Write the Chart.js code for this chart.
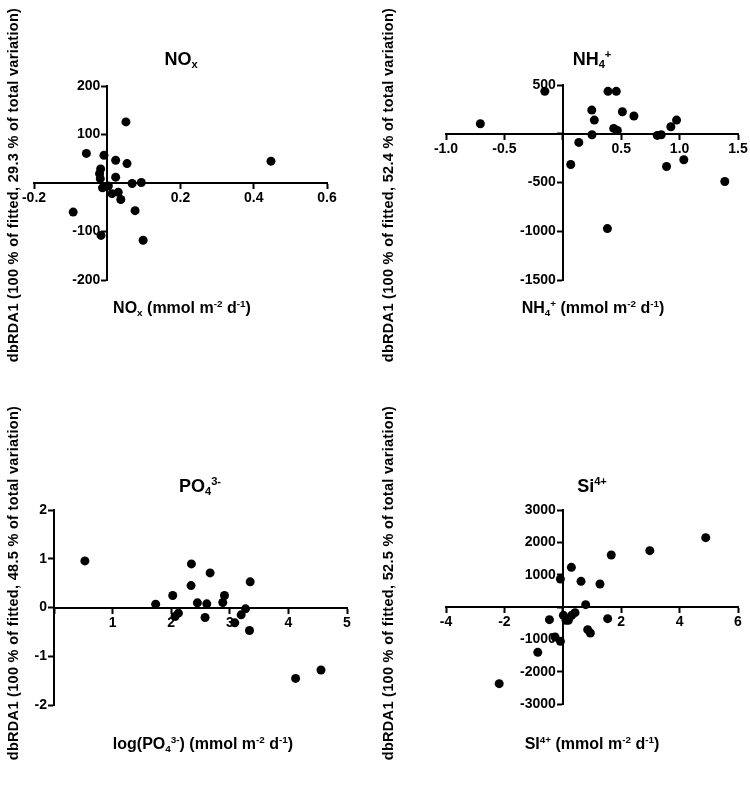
<!DOCTYPE html>
<html>
<head>
<meta charset="utf-8">
<script src="https://cdn.jsdelivr.net/npm/chart.js@4.4.0/dist/chart.umd.min.js"></script>
<style>
  body { margin: 0; background: #fff; }
  #wrap { position: relative; width: 750px; height: 791px; overflow: hidden;
          font-family: "Liberation Sans", Arial, sans-serif; font-weight: bold; color: #000; }
  canvas { position: absolute; }
  .txt { position: absolute; white-space: nowrap; line-height: 1; }
  .title { font-size: 18px; transform: translateX(-50%); }
  .xt { font-size: 16px; transform: translateX(-50%); }
  .yt { font-size: 14.5px; letter-spacing: 0.3px; transform: translate(-50%, -50%) rotate(-90deg); }
  sub, sup { font-size: 0.62em; line-height: 0; }
  sub { vertical-align: -0.3em; }
  sup { vertical-align: 0.6em; }
</style>
</head>
<body>
<div id="wrap">
  <canvas id="c1"></canvas>
  <canvas id="c2"></canvas>
  <canvas id="c3"></canvas>
  <canvas id="c4"></canvas>

  <div class="txt title" style="left:181px; top:50px;">NO<sub>x</sub></div>
  <div class="txt title" style="left:592px; top:50px;">NH<sub>4</sub><sup>+</sup></div>
  <div class="txt title" style="left:200px; top:477px;">PO<sub>4</sub><sup>3-</sup></div>
  <div class="txt title" style="left:592px; top:477px;">Si<sup>4+</sup></div>

  <div class="txt xt" style="left:182px; top:300px;">NO<sub>x</sub> (mmol m<sup>-2</sup> d<sup>-1</sup>)</div>
  <div class="txt xt" style="left:593px; top:300px;">NH<sub>4</sub><sup>+</sup> (mmol m<sup>-2</sup> d<sup>-1</sup>)</div>
  <div class="txt xt" style="left:203px; top:736px;">log(PO<sub>4</sub><sup>3-</sup>) (mmol m<sup>-2</sup> d<sup>-1</sup>)</div>
  <div class="txt xt" style="left:592px; top:736px;">SI<sup>4+</sup> (mmol m<sup>-2</sup> d<sup>-1</sup>)</div>

  <div class="txt yt" style="left:13px; top:185px;">dbRDA1 (100 % of fitted, 29.3 % of total variation)</div>
  <div class="txt yt" style="left:388px; top:185px;">dbRDA1 (100 % of fitted, 52.4 % of total variation)</div>
  <div class="txt yt" style="left:13px; top:583px;">dbRDA1 (100 % of fitted, 48.5 % of total variation)</div>
  <div class="txt yt" style="left:388px; top:583px;">dbRDA1 (100 % of fitted, 52.5 % of total variation)</div>
</div>

<script>
// NOx panel
const noxX = [0.051, -0.057, -0.009, 0.023, 0.054, -0.018, -0.021, -0.019, 0.023, 0.068, 0.093,
              -0.013, 0.003, 0.013, 0.030, 0.037, -0.093, 0.076, -0.017, 0.098, 0.447];
const noxY = [126, 61, 57, 47, 40, 29, 19, 9, 12, -1, 1, -10, -6, -22, -19, -34, -60, -57, -108, -118, 45];
const noxXTicks = [-0.2, 0, 0.2, 0.4, 0.6];
const noxXLabels = ["-0.2", "", "0.2", "0.4", "0.6"];
const noxYTicks = [-200, -100, 0, 100, 200];
const noxYLabels = ["-200", "-100", "", "100", "200"];

// NH4+ panel
const nh4X = [-0.706, -0.154, 0.387, 0.458, 0.248, 0.51, 0.609, 0.27, 0.974, 0.925, 0.436,
              0.467, 0.25, 0.809, 0.843, 0.137, 0.068, 0.888, 1.036, 1.387, 0.382];
const nh4Y = [103, 435, 435, 435, 243, 226, 182, 140, 140, 72, 55, 34, -10, -17, -10, -89, -315,
              -336, -267, -490, -973];
const nh4XTicks = [-1.0, -0.5, 0, 0.5, 1.0, 1.5];
const nh4XLabels = ["-1.0", "-0.5", "", "0.5", "1.0", "1.5"];
const nh4YTicks = [-1500, -1000, -500, 0, 500];
const nh4YLabels = ["-1500", "-1000", "-500", "", "500"];

// PO4 3- panel
const po4X = [0.527, 2.345, 2.664, 2.339, 3.348, 2.026, 2.909, 1.735, 2.447, 2.607, 2.88,
              3.268, 2.123, 2.066, 2.578, 3.085, 3.194, 3.336, 4.123, 4.556];
const po4Y = [0.956, 0.894, 0.71, 0.45, 0.526, 0.246, 0.246, 0.068, 0.096, 0.075, 0.102,
              -0.027, -0.116, -0.184, -0.205, -0.314, -0.15, -0.471, -1.454, -1.283];
const po4XTicks = [0, 1, 2, 3, 4, 5];
const po4XLabels = ["", "1", "2", "3", "4", "5"];
const po4YTicks = [-2, -1, 0, 1, 2];
const po4YLabels = ["-2", "-1", "0", "1", "2"];

// Si4+ panel
const siX = [4.895, 2.98, 1.66, 0.294, -0.082, 0.624, 1.273, 0.784, 0.02, 0.419, 0.305,
             0.112, 0.19, -0.458, 1.536, 0.852, 0.943, -0.264, -0.082, -0.857, -2.178];
const siY = [2144, 1742, 1608, 1227, 866, 794, 711, 72, -258, -175, -258, -412, -412, -392,
             -361, -701, -804, -928, -1062, -1402, -2371];
const siXTicks = [-4, -2, 0, 2, 4, 6];
const siXLabels = ["-4", "-2", "", "2", "4", "6"];
const siYTicks = [-3000, -2000, -1000, 0, 1000, 2000, 3000];
const siYLabels = ["-3000", "-2000", "-1000", "", "1000", "2000", "3000"];

const tickFont = { family: "'Liberation Sans', Arial, sans-serif", size: 14, weight: "bold" };
const PAD = 30;

// y labels of a crossing axis sit on the line by default; move them left of the ticks
const yLabelShift = {
  id: "yLabelShift",
  beforeDraw(chart) {
    const axisX = chart.scales.x.getPixelForValue(0);
    chart.scales.y.getLabelItems().forEach(item => {
      item.options.translation[0] = axisX - 7;
      item.options.textAlign = "right";
    });
  }
};

// box = plot area in page pixels [left, top, right, bottom]
function makePanel(id, box, xs, ys, xTicks, xLabels, yTicks, yLabels) {
  const canvas = document.getElementById(id);
  const w = box[2] - box[0] + 2 * PAD;
  const h = box[3] - box[1] + 2 * PAD;
  canvas.width = w;
  canvas.height = h;
  canvas.style.left = (box[0] - PAD) + "px";
  canvas.style.top = (box[1] - PAD) + "px";
  canvas.style.width = w + "px";
  canvas.style.height = h + "px";

  const axis = (ticks, labels, pos) => ({
    type: "linear",
    min: ticks[0],
    max: ticks[ticks.length - 1],
    position: pos,
    border: { display: true, color: "#000", width: 2 },
    grid: { display: true, drawOnChartArea: false, drawTicks: true, tickLength: 5, tickWidth: 2, tickColor: "#000" },
    afterBuildTicks: s => { s.ticks = ticks.map(v => ({ value: v })); },
    ticks: { color: "#000", font: tickFont, padding: 2, maxRotation: 0, autoSkip: false,
             callback: (v, i) => labels[i] }
  });

  new Chart(canvas.getContext("2d"), {
    type: "scatter",
    data: {
      datasets: [{
        data: xs.map((x, i) => ({ x: x, y: ys[i] })),
        backgroundColor: "#000",
        borderWidth: 0,
        pointRadius: 4.5
      }]
    },
    options: {
      responsive: false,
      animation: false,
      devicePixelRatio: 1,
      layout: { padding: PAD },
      plugins: { legend: { display: false }, tooltip: { enabled: false } },
      scales: {
        x: axis(xTicks, xLabels, { y: 0 }),
        y: axis(yTicks, yLabels, { x: 0 })
      }
    },
    plugins: [yLabelShift]
  });
}

document.addEventListener("DOMContentLoaded", () => {
  makePanel("c1", [34, 86, 327, 280], noxX, noxY, noxXTicks, noxXLabels, noxYTicks, noxYLabels);
  makePanel("c2", [446, 85, 738, 280], nh4X, nh4Y, nh4XTicks, nh4XLabels, nh4YTicks, nh4YLabels);
  makePanel("c3", [54, 510, 347, 705], po4X, po4Y, po4XTicks, po4XLabels, po4YTicks, po4YLabels);
  makePanel("c4", [446, 510, 738, 704], siX, siY, siXTicks, siXLabels, siYTicks, siYLabels);
});
</script>
</body>
</html>
